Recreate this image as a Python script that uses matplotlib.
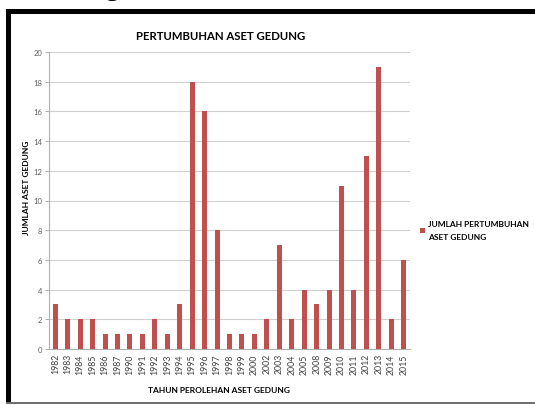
import matplotlib.pyplot as plt
from matplotlib.patches import Rectangle

years = ['1982', '1983', '1984', '1985', '1986', '1987', '1990', '1991', '1992',
         '1993', '1994', '1995', '1996', '1997', '1998', '1999', '2000', '2002',
         '2003', '2004', '2005', '2008', '2009', '2010', '2011', '2012', '2013',
         '2014', '2015']
jumlah = [3, 2, 2, 2, 1, 1, 1, 1, 2, 1, 3, 18, 16, 8, 1, 1, 1, 2, 7, 2, 4, 3, 4,
          11, 4, 13, 19, 2, 6]

plt.rcParams['font.family'] = ['Lato', 'DejaVu Sans']

W, H = 535, 406
fig = plt.figure(figsize=(W / 100, H / 100), dpi=100)

# black frame of the screenshot
fig.patches.append(Rectangle((6 / W, 1 - 15 / H), 1, 5 / H, transform=fig.transFigure,
                             facecolor='black', edgecolor='none'))
fig.patches.append(Rectangle((6 / W, 1 - 405 / H), 5 / W, 395 / H, transform=fig.transFigure,
                             facecolor='black', edgecolor='none'))
fig.patches.append(Rectangle((6 / W, 1 - 405 / H), 1, 2 / H, transform=fig.transFigure,
                             facecolor='#707070', edgecolor='none'))
# descender of text cut off above the frame
fig.text(112 / W, 1 + 6 / H, 'g', fontsize=22, family='Liberation Serif',
         ha='center', va='baseline')

ax = fig.add_axes([49 / W, 1 - 350 / H, 361 / W, 297 / H])
x = range(len(years))
bars = ax.bar(x, jumlah, width=0.4, color='#C0504D', zorder=3,
              label='JUMLAH PERTUMBUHAN\nASET GEDUNG')

ax.set_xlim(-0.5, len(years) - 0.5)
ax.set_ylim(0, 20)
ax.set_yticks(range(0, 21, 2))
ax.set_xticks(list(x))
ax.set_xticklabels(years, rotation=90)
ax.tick_params(axis='y', labelsize=5.5, colors='#A0A0A0', length=3, width=0.6,
               labelcolor='#606060', pad=2)
ax.tick_params(axis='x', labelsize=6.3, length=0, labelcolor='#404040', pad=3)
ax.grid(axis='y', color='#D0D0D0', linewidth=0.8, zorder=0)
for s in ['top', 'right']:
    ax.spines[s].set_visible(False)
for s in ['left', 'bottom']:
    ax.spines[s].set_color('#B0B0B0')
    ax.spines[s].set_linewidth(0.8)

fig.text(221 / W, 1 - 37 / H, 'PERTUMBUHAN ASET GEDUNG', fontsize=8.2,
         fontweight='bold', ha='center', va='center')
fig.text(27 / W, 1 - 188 / H, 'JUMLAH ASET GEDUNG', fontsize=6, fontweight='bold',
         rotation=90, ha='center', va='center')
fig.text(219 / W, 1 - 391 / H, 'TAHUN PEROLEHAN ASET GEDUNG', fontsize=6,
         fontweight='bold', ha='center', va='center')

leg = fig.legend(loc='upper left', bbox_to_anchor=(416 / W, 1 - 217 / H),
                 frameon=False, fontsize=6, handlelength=0.6, handleheight=0.6,
                 handletextpad=0.3, borderpad=0, labelspacing=0)
for t in leg.get_texts():
    t.set_fontweight('bold')
    t.set_linespacing(2.0)

fig.savefig('out.png', dpi=100)
